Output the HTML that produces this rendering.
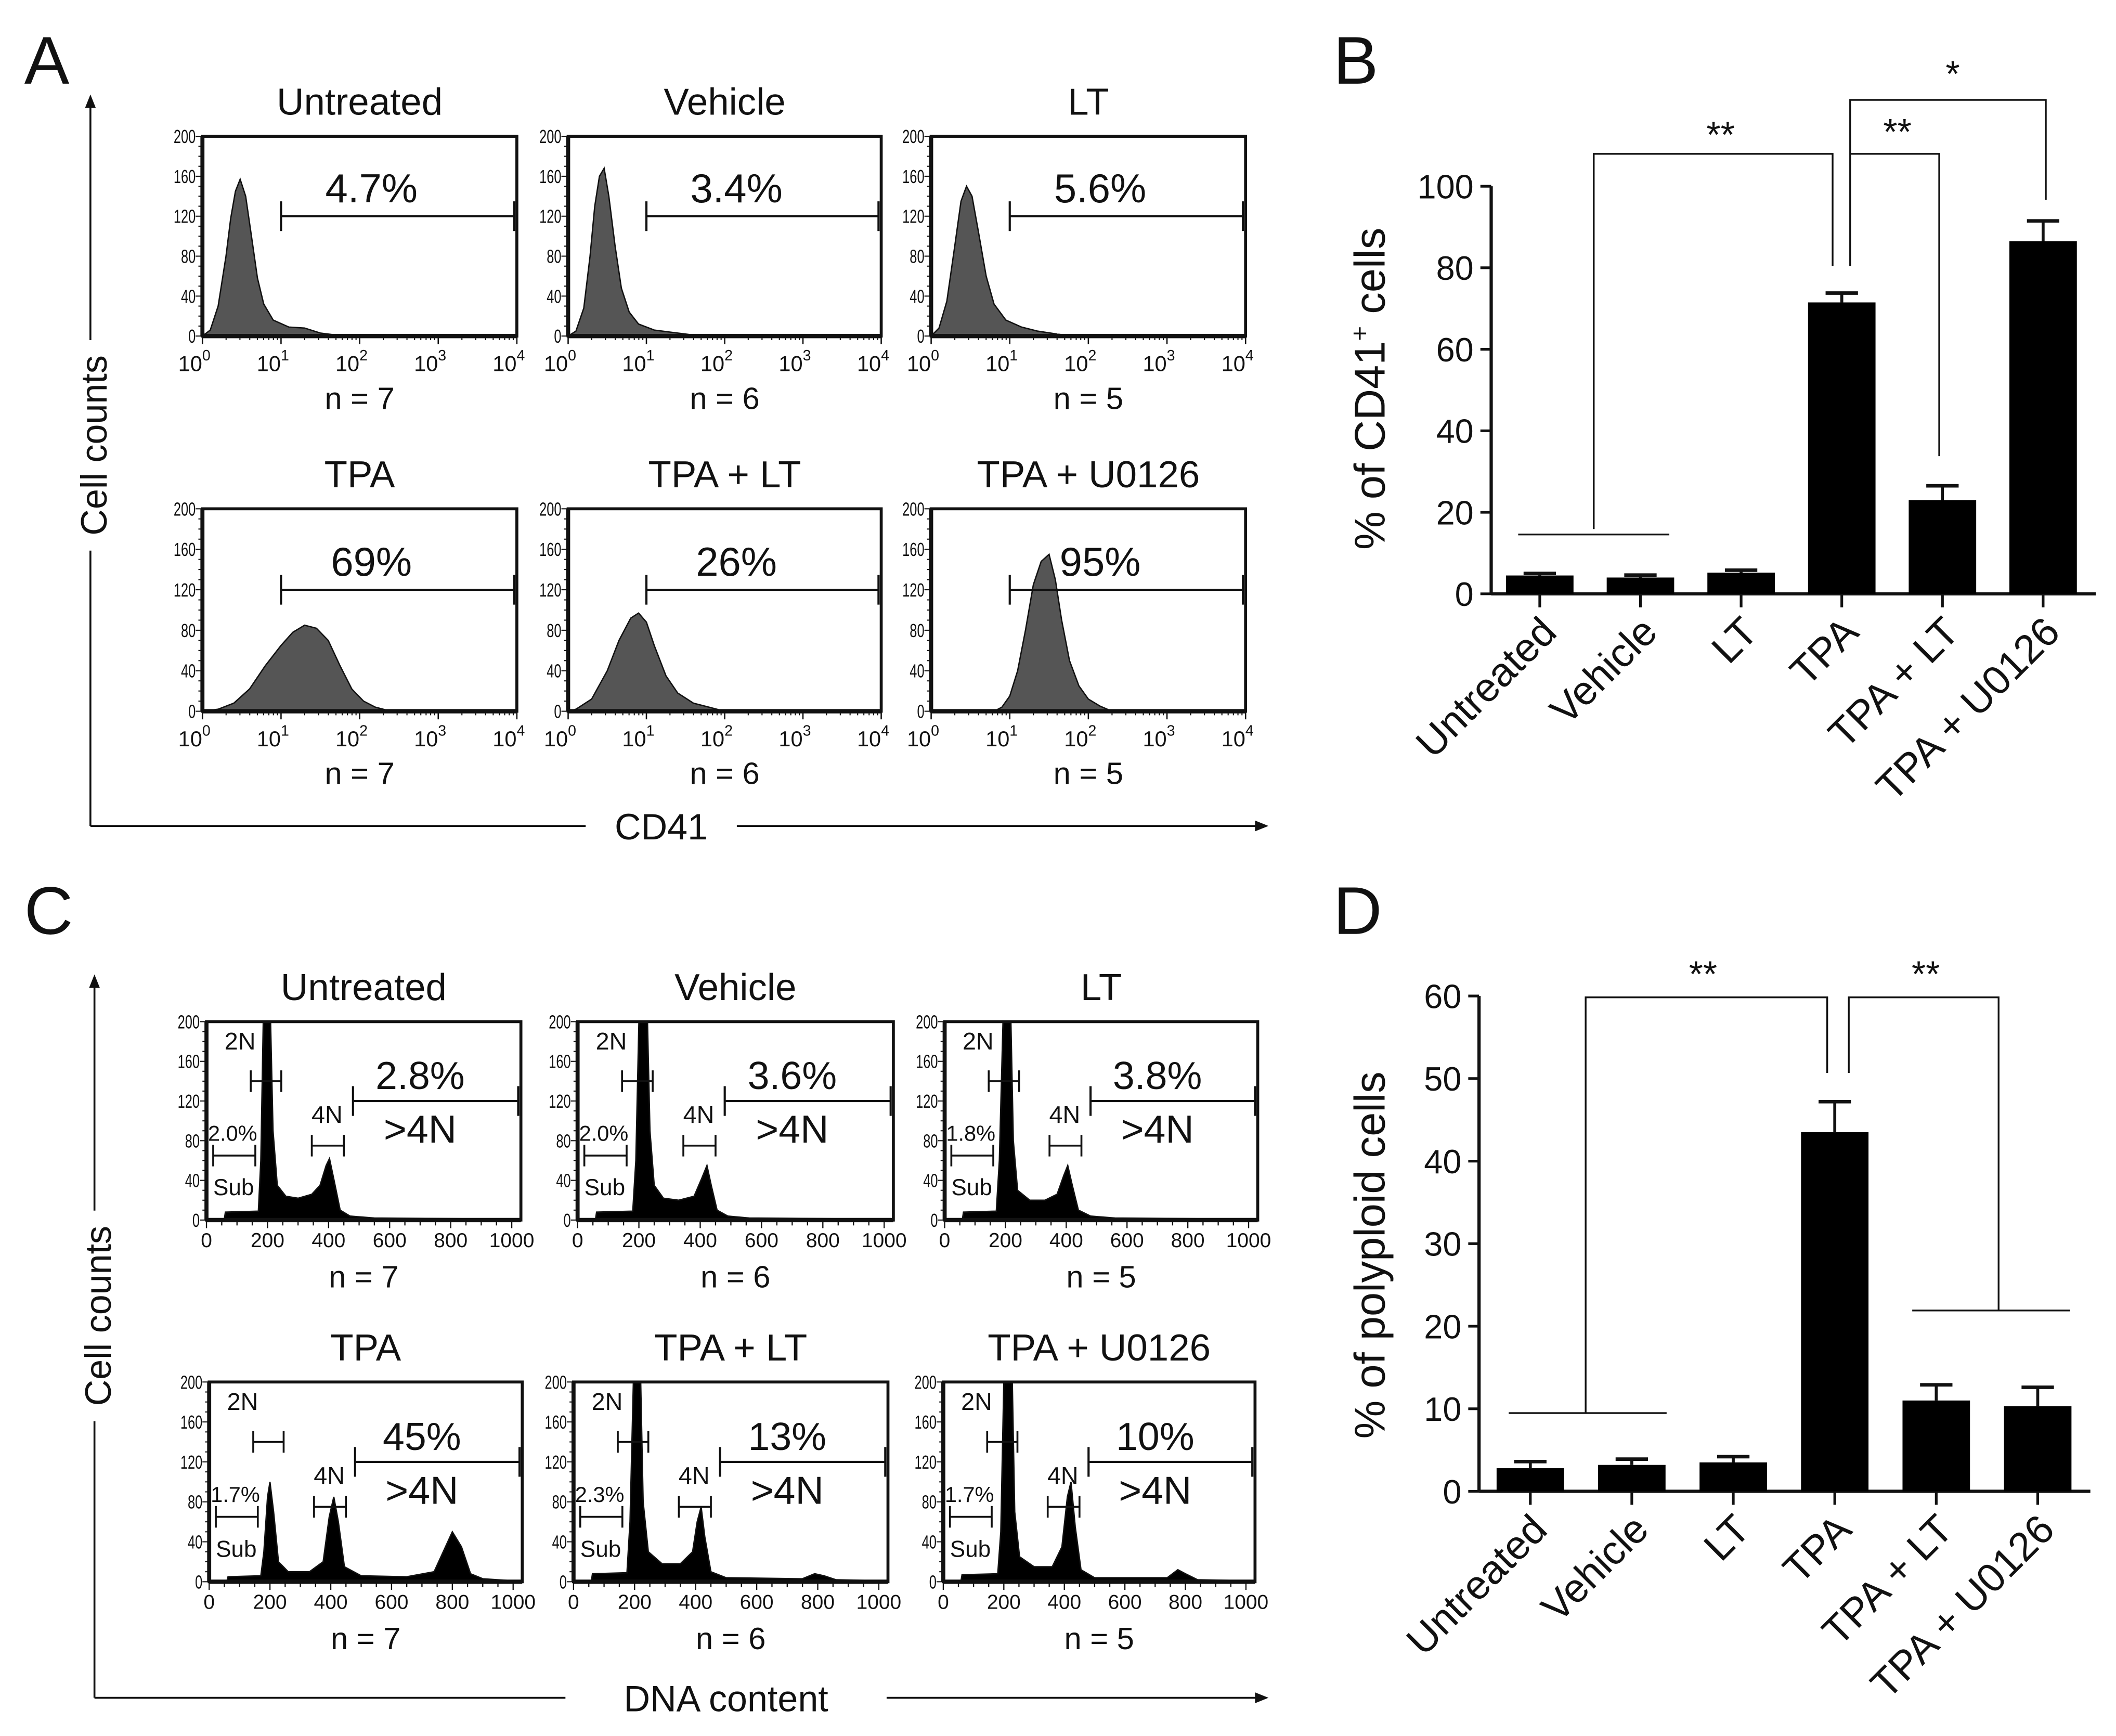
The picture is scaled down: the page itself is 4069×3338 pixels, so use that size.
<!DOCTYPE html>
<html><head><meta charset="utf-8"><style>
html,body{margin:0;padding:0;background:#fff}
svg{display:block}
text{font-family:"Liberation Sans",sans-serif;fill:#111}
</style></head><body>
<svg id="fig" xmlns="http://www.w3.org/2000/svg" width="4069" height="3338" viewBox="0 0 1568 1286.3" preserveAspectRatio="none"></svg>
<script>
// ---------- data ----------
const titles = ['Untreated','Vehicle','LT','TPA','TPA + LT','TPA + U0126'];
const nLabels = ['n = 7','n = 6','n = 5','n = 7','n = 6','n = 5'];
const cd41Pct = ['4.7%','3.4%','5.6%','69%','26%','95%'];
const polyPct = ['2.8%','3.6%','3.8%','45%','13%','10%'];
const subPct = ['2.0%','2.0%','1.8%','1.7%','2.3%','1.7%'];
const logTicks = [0,1,2,3,4];
const linTicks = [0,200,400,600,800,1000];
const countTicks = [0,40,80,120,160,200];
// CD41 histograms [log10 intensity, count]
const histA0 = [[0,0],[0.1,6],[0.2,30],[0.3,80],[0.36,118],[0.42,145],[0.48,157],[0.55,140],[0.62,102],[0.7,58],[0.78,32],[0.9,16],[1.1,9],[1.3,8],[1.5,3],[1.7,1],[1.8,0]];
const histA1 = [[0,0],[0.1,5],[0.2,28],[0.28,80],[0.34,130],[0.4,160],[0.46,168],[0.52,140],[0.6,90],[0.68,48],[0.78,24],[0.9,12],[1.1,6],[1.3,4],[1.5,2],[1.7,0]];
const histA2 = [[0,0],[0.1,8],[0.2,35],[0.3,90],[0.38,135],[0.45,150],[0.52,140],[0.6,105],[0.7,60],[0.8,32],[0.95,16],[1.15,9],[1.35,5],[1.6,2],[1.8,0]];
const histA3 = [[0,0],[0.2,2],[0.4,8],[0.6,22],[0.8,45],[1.0,65],[1.15,78],[1.3,85],[1.45,82],[1.6,70],[1.75,45],[1.9,22],[2.05,10],[2.2,4],[2.4,0]];
const histA4 = [[0,0],[0.1,2],[0.3,12],[0.5,40],[0.65,70],[0.8,92],[0.9,97],[1.0,88],[1.1,65],[1.25,35],[1.4,18],[1.6,8],[1.8,4],[2.0,0]];
const histA5 = [[0.8,0],[0.9,4],[1.0,15],[1.1,40],[1.2,80],[1.3,125],[1.4,148],[1.5,155],[1.58,130],[1.66,90],[1.76,50],[1.88,25],[2.0,12],[2.15,5],[2.3,0]];
// DNA histograms [channel, count]
const histC0 = [[0,0],[58,0],[62,8],[170,9],[178,60],[186,200],[210,200],[218,90],[232,35],[260,24],[300,22],[345,26],[372,35],[392,55],[403,62],[418,40],[438,10],[470,4],[550,2],[1000,1],[1005,0]];
const histC1 = [[0,0],[58,0],[62,8],[180,9],[190,60],[200,200],[228,200],[236,90],[250,35],[280,22],[330,20],[380,24],[405,42],[422,55],[436,35],[455,10],[490,4],[560,2],[1000,1],[1005,0]];
const histC2 = [[0,0],[58,0],[62,8],[170,9],[180,60],[192,200],[218,200],[226,80],[240,30],[280,20],[330,20],[370,26],[392,45],[405,55],[420,35],[440,10],[480,4],[560,2],[1000,1],[1005,0]];
const histC3 = [[0,0],[58,0],[62,5],[170,6],[180,30],[192,85],[200,100],[212,70],[228,20],[260,10],[330,10],[375,20],[395,65],[410,85],[425,60],[445,15],[500,6],[650,5],[740,10],[770,30],[800,50],[830,35],[860,8],[900,3],[1000,1],[1005,0]];
const histC4 = [[0,0],[58,0],[62,8],[175,9],[185,60],[196,200],[220,200],[228,80],[245,30],[290,18],[350,18],[390,30],[405,60],[418,75],[430,45],[450,10],[500,4],[750,3],[790,8],[820,6],[860,2],[1000,1],[1005,0]];
const histC5 = [[0,0],[58,0],[62,7],[180,8],[190,50],[200,200],[228,200],[236,70],[252,25],[300,15],[360,15],[392,35],[410,85],[422,100],[436,55],[455,12],[500,4],[740,4],[775,12],[800,8],[840,2],[1000,1],[1005,0]];
// bar charts
const categories = ['Untreated','Vehicle','LT','TPA','TPA + LT','TPA + U0126'];
const cd41Values = [4.5,4.0,5.2,71.5,23.0,86.5];
const cd41Errors = [0.5,0.6,0.6,2.3,3.5,5.0];
const cd41Ticks = [0,20,40,60,80,100];
const polyValues = [2.8,3.2,3.5,43.5,11.0,10.3];
const polyErrors = [0.8,0.7,0.7,3.7,1.9,2.3];
const polyTicks = [0,10,20,30,40,50,60];

// ---------- helpers ----------
const NS='http://www.w3.org/2000/svg';
const svg=document.getElementById('fig');
function mk(tag,attrs,parent){const e=document.createElementNS(NS,tag);for(const k in attrs)e.setAttribute(k,attrs[k]);(parent||svg).appendChild(e);return e;}
function txt(str,attrs,parent){const e=mk('text',attrs,parent);e.textContent=str;return e;}
function line(x1,y1,x2,y2,w,parent){return mk('line',{x1,y1,x2,y2,stroke:'#111','stroke-width':w||1.4},parent);}

// panel letters
[['A',18,62],['B',988,62],['C',18,692],['D',988,692]].forEach(p=>{
  const t=txt(p[0],{x:p[1],y:p[2],'font-size':50},svg);
  
  
});

// global arrowed axes
function arrowAxes(xv,yTop,yBot,xRight,labelY,ylabCenter,xlab,xlabCenter,name){
  const g=mk('g',{});
  
  
  line(xv,yBot,xv,ylabCenter+78,1.4,g);
  line(xv,ylabCenter-78,xv,yTop+8,1.4,g);
  mk('path',{d:`M${xv-4},${yTop+10} L${xv},${yTop} L${xv+4},${yTop+10} Z`,fill:'#111'},g);
  const yl=txt('Cell counts',{x:xv+12,y:ylabCenter,'font-size':27,'text-anchor':'middle',transform:`rotate(-90 ${xv+12} ${ylabCenter})`},g);
  
  
  const w=xlab.length*9+20;
  line(xv,yBot,xlabCenter-w,yBot,1.4,g);
  line(xlabCenter+w,yBot,xRight-8,yBot,1.4,g);
  mk('path',{d:`M${xRight-10},${yBot-4} L${xRight},${yBot} L${xRight-10},${yBot+4} Z`,fill:'#111'},g);
  const xl=txt(xlab,{x:xlabCenter,y:yBot+10,'font-size':27,'text-anchor':'middle'},g);
  
  
}
arrowAxes(67,70,612,940,0,330,'CD41',490,'panel-a-axes');
arrowAxes(70,722,1258,940,0,975,'DNA content',538,'panel-c-axes');

// histogram panel
function histPanel(box,kind,data,idx){
  const [x0,x1,y0,y1]=box; const w=x1-x0,h=y1-y0;
  const g=mk('g',{});
  
  
  const sx=kind==='log'?(v=>x0+v/4*w):(v=>x0+v/1030*w);
  const sy=c=>y1-Math.min(c,200)/200*h;
  const t=txt(titles[idx],{x:(x0+x1)/2,y:y0-16,'font-size':28,'text-anchor':'middle'},g);
  
  
  let d=`M${sx(data[0][0])},${y1}`;
  data.forEach(p=>{d+=` L${sx(p[0]).toFixed(2)},${sy(p[1]).toFixed(2)}`;});
  d+=` L${sx(data[data.length-1][0])},${y1} Z`;
  const hp=mk('path',{d,fill:kind==='log'?'#555':'#000',stroke:'#111','stroke-width':1},g);
  
  
  mk('rect',{x:x0,y:y0,width:w,height:h,fill:'none',stroke:'#111','stroke-width':2.2},g);
  line(x0,y0,x0,y1,3,g); line(x0,y1,x1,y1,3.2,g);
  for(let c=0;c<=200;c+=10){line(x0-(c%40===0?5:3),sy(c),x0,sy(c),0.8,g);}
  countTicks.forEach(c=>{txt(String(c),{x:x0-5,y:sy(c)+5,'font-size':14,'text-anchor':'end',transform:`translate(${(x0-5)*0.3},0) scale(0.7,1)`},g);});
  if(kind==='log'){
    logTicks.forEach(k=>{
      line(sx(k),y1,sx(k),y1+6,1,g);
      if(k<4)for(let m=2;m<10;m++){const xv=sx(k+Math.log10(m));line(xv,y1,xv,y1+3,0.8,g);}
      const tt=txt('10',{x:sx(k)-6,y:y1+26,'font-size':16,'text-anchor':'middle'},g);
      const sp=mk('tspan',{dy:-8,'font-size':11},tt); sp.textContent=String(k);
    });
  } else {
    for(let v=0;v<=1000;v+=50){line(sx(v),y1,sx(v),y1+(v%200===0?6:4),0.9,g);}
    linTicks.forEach(v=>{txt(String(v),{x:sx(v),y:y1+20,'font-size':15,'text-anchor':'middle'},g);});
  }
  const nl=txt(nLabels[idx],{x:(x0+x1)/2,y:y1+(kind==='log'?54:50),'font-size':23,'text-anchor':'middle'},g);
  
  
  if(kind==='log'){
    const gy=sy(120), gx=sx(1.0);
    line(gx,gy,x1-2,gy,1.6,g); line(gx,gy-11,gx,gy+11,1.6,g); line(x1-2,gy-11,x1-2,gy+11,1.6,g);
    const pt=txt(cd41Pct[idx],{x:sx(2.15),y:sy(134),'font-size':30,'text-anchor':'middle'},g);
    
    
  } else {
    const gy=sy(120), gx=sx(480);
    line(gx,gy,x1-2,gy,1.6,g); line(gx,gy-11,gx,gy+11,1.6,g); line(x1-2,gy-11,x1-2,gy+11,1.6,g);
    const pt=txt(polyPct[idx],{x:sx(700),y:sy(132),'font-size':29,'text-anchor':'middle'},g);
    
    
    txt('>4N',{x:sx(700),y:sy(78),'font-size':29,'text-anchor':'middle'},g);
    const b2y=sy(140); line(sx(145),b2y,sx(245),b2y,1.4,g); line(sx(145),b2y-8,sx(145),b2y+8,1.4,g); line(sx(245),b2y-8,sx(245),b2y+8,1.4,g);
    txt('2N',{x:sx(110),y:sy(172),'font-size':18,'text-anchor':'middle'},g);
    const b4y=sy(75); line(sx(345),b4y,sx(450),b4y,1.4,g); line(sx(345),b4y-8,sx(345),b4y+8,1.4,g); line(sx(450),b4y-8,sx(450),b4y+8,1.4,g);
    txt('4N',{x:sx(395),y:sy(98),'font-size':18,'text-anchor':'middle'},g);
    const bsy=sy(65); line(sx(22),bsy,sx(160),bsy,1.4,g); line(sx(22),bsy-8,sx(22),bsy+8,1.4,g); line(sx(160),bsy-8,sx(160),bsy+8,1.4,g);
    txt(subPct[idx],{x:sx(5),y:sy(80),'font-size':16},g);
    txt('Sub',{x:sx(22),y:sy(25),'font-size':17},g);
  }
}
const boxesA=[[150,383,101,249],[421,653,101,249],[690,923,101,249],[150,383,377,527],[421,653,377,527],[690,923,377,527]];
const boxesC=[[153,386,757,904],[428,662,757,904],[700,932,757,904],[155,387,1024,1172],[425,658,1024,1172],[699,930,1024,1172]];
const histsA=[histA0,histA1,histA2,histA3,histA4,histA5];
const histsC=[histC0,histC1,histC2,histC3,histC4,histC5];
histsA.forEach((h,i)=>histPanel(boxesA[i],'log',h,i));
histsC.forEach((h,i)=>histPanel(boxesC[i],'lin',h,i));

// bar chart
function barChart(o){
  const g=mk('g',{});
  
  
  const ymax=o.ticks[o.ticks.length-1];
  const sy=v=>o.y0-v/ymax*(o.y0-o.yTop);
  const sx=i=>o.c0+i*o.step;
  line(o.ax,o.y0,o.ax,o.yTop,2.4,g);
  line(o.ax,o.y0,o.axR,o.y0,2.4,g);
  o.ticks.forEach(t=>{
    line(o.ax-8,sy(t),o.ax,sy(t),2,g);
    const tl=txt(String(t),{x:o.ax-13,y:sy(t)+9,'font-size':25,'text-anchor':'end'},g);
    
    
  });
  categories.forEach((c,i)=>{
    line(sx(i),o.y0,sx(i),o.y0+10,2,g);
    const x=sx(i)+14,y=o.y0+30;
    const cl=txt(c,{x,y,'font-size':30,'text-anchor':'end',transform:`rotate(-45 ${x} ${y})`},g);
    
    
  });
  o.values.forEach((v,i)=>{
    const bw=50;
    const r=mk('rect',{x:sx(i)-bw/2,y:sy(v),width:bw,height:o.y0-sy(v),fill:'#000'},g);
    
    
    const te=sy(v+o.errors[i]);
    line(sx(i),sy(v),sx(i),te,2.2,g);
    line(sx(i)-12,te,sx(i)+12,te,2.6,g);
  });
  const yl=txt('',{x:o.ylx,y:o.ylc,'font-size':32,'text-anchor':'middle',transform:`rotate(-90 ${o.ylx} ${o.ylc})`},g);
  
  
  o.ylabel(yl);
  o.sig.forEach(p=>{mk('polyline',{points:p,fill:'none',stroke:'#111','stroke-width':1.3},g);});
  o.stars.forEach(s=>{
    const st=txt(s[0],{x:s[1],y:s[2],'font-size':27,'text-anchor':'middle'},g);
    
    
  });
}
barChart({name:'cd41-bar-chart',ax:1105,axR:1553,y0:440,yTop:138,c0:1141,step:74.6,values:cd41Values,errors:cd41Errors,ticks:cd41Ticks,ylx:1026,ylc:288,
  ylabel:e=>{e.appendChild(document.createTextNode('% of CD41'));const s=document.createElementNS(NS,'tspan');s.setAttribute('dy','-12');s.setAttribute('font-size','19');s.textContent='+';e.appendChild(s);const s2=document.createElementNS(NS,'tspan');s2.setAttribute('dy','12');s2.textContent=' cells';e.appendChild(s2);},
  sig:['1125,396 1237,396','1181,392 1181,114 1358,114 1358,197','1371,197 1371,74 1516,74 1516,148','1371,114 1437,114 1437,338'],
  stars:[['**',1275,109],['**',1406,107],['*',1447,64]]});
barChart({name:'polyploid-bar-chart',ax:1096,axR:1549,y0:1105,yTop:738,c0:1134,step:75.2,values:polyValues,errors:polyErrors,ticks:polyTicks,ylx:1026,ylc:930,
  ylabel:e=>{e.textContent='% of polyploid cells';},
  sig:['1118,1047 1235,1047','1175,1047 1175,739 1354,739 1354,795','1370,795 1370,739 1481,739 1481,971','1417,971 1534,971'],
  stars:[['**',1262,731],['**',1427,731]]});
</script>
</body></html>
